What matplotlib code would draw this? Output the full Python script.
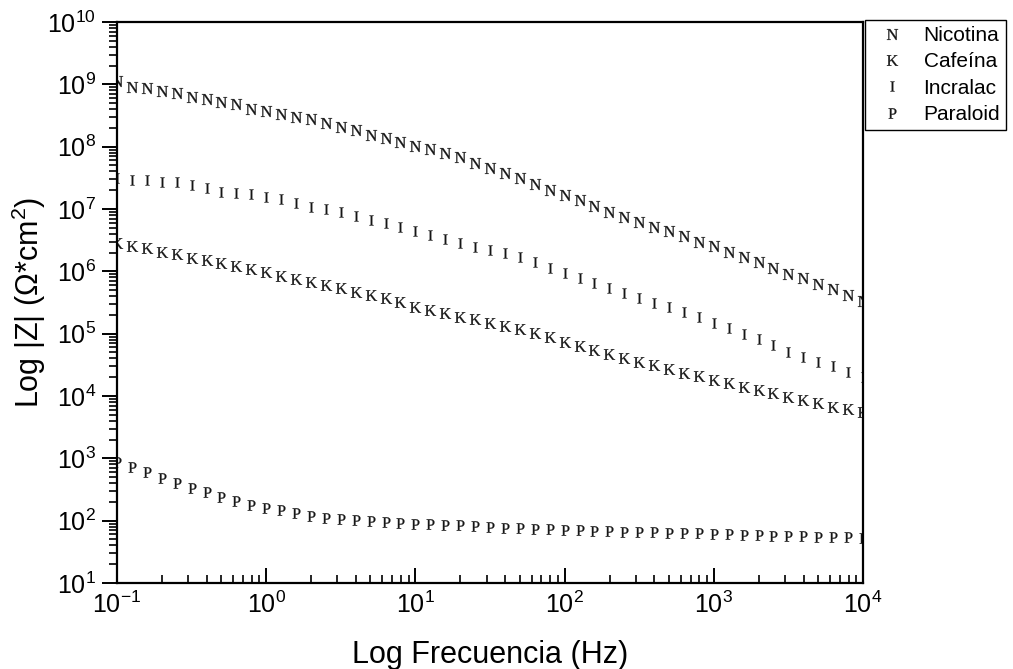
import matplotlib
matplotlib.use("Agg")
import matplotlib.pyplot as plt
from matplotlib.ticker import LogLocator, NullFormatter

# ====== データ ======
freq = [0.1, 0.1259, 0.1585, 0.1995, 0.2512, 0.3162, 0.3981, 0.5012, 0.631, 0.7943,
        1, 1.259, 1.585, 1.995, 2.512, 3.162, 3.981, 5.012, 6.31, 7.943,
        10, 12.59, 15.85, 19.95, 25.12, 31.62, 39.81, 50.12, 63.1, 79.43,
        100, 125.9, 158.5, 199.5, 251.2, 316.2, 398.1, 501.2, 631, 794.3,
        1000, 1259, 1585, 1995, 2512, 3162, 3981, 5012, 6310, 7943, 10000]

nicotina = [1.14e9, 9.16e8, 8.83e8, 7.82e8, 7.18e8, 6.33e8, 5.75e8, 5.15e8, 4.89e8, 3.97e8,
            3.73e8, 3.34e8, 3.03e8, 2.75e8, 2.42e8, 2.09e8, 1.85e8, 1.54e8, 1.36e8, 1.20e8,
            1.03e8, 9.08e7, 7.82e7, 6.90e7, 5.53e7, 4.58e7, 3.75e7, 3.10e7, 2.51e7, 2.01e7,
            1.66e7, 1.38e7, 1.12e7, 9.02e6, 7.38e6, 6.21e6, 5.08e6, 4.49e6, 3.63e6, 3.01e6,
            2.56e6, 2.02e6, 1.72e6, 1.39e6, 1.14e6, 9.18e5, 7.82e5, 6.32e5, 5.25e5, 4.19e5,
            3.39e5]

cafeina = [2.82e6, 2.58e6, 2.34e6, 2.07e6, 1.88e6, 1.66e6, 1.52e6, 1.37e6, 1.22e6, 1.09e6,
           9.64e5, 8.51e5, 7.53e5, 6.81e5, 6.04e5, 5.35e5, 4.71e5, 4.17e5, 3.69e5, 3.26e5,
           2.70e5, 2.39e5, 2.17e5, 1.87e5, 1.72e5, 1.50e5, 1.33e5, 1.17e5, 1.01e5, 8.75e4,
           7.26e4, 6.34e4, 5.47e4, 4.72e4, 4.03e4, 3.55e4, 3.14e4, 2.68e4, 2.37e4, 2.09e4,
           1.80e4, 1.60e4, 1.41e4, 1.25e4, 1.10e4, 9.73e3, 8.63e3, 7.64e3, 6.58e3, 6.11e3,
           5.60e3]

incralac = [3.10e7, 2.92e7, 2.92e7, 2.74e7, 2.74e7, 2.43e7, 2.15e7, 1.89e7, 1.79e7, 1.72e7,
            1.57e7, 1.43e7, 1.23e7, 1.09e7, 9.89e6, 8.85e6, 7.80e6, 6.65e6, 5.89e6, 5.20e6,
            4.49e6, 3.83e6, 3.30e6, 2.81e6, 2.48e6, 2.20e6, 1.99e6, 1.68e6, 1.40e6, 1.12e6,
            9.29e5, 7.73e5, 6.43e5, 5.35e5, 4.45e5, 3.70e5, 3.14e5, 2.65e5, 2.25e5, 1.83e5,
            1.50e5, 1.22e5, 9.89e4, 8.13e4, 6.58e4, 5.14e4, 4.28e4, 3.56e4, 3.03e4, 2.46e4,
            2.04e4]

paraloid = [883, 718, 597, 489, 406, 338, 285, 242, 209, 178,
            161, 148, 131, 119, 111, 106, 102, 98.6, 96.2, 92.7,
            88.3, 87.3, 85.1, 84.1, 82.0, 78.2, 77.1, 75.3, 74.3, 72.6,
            70.8, 70.8, 69.0, 68.2, 66.5, 66.5, 65.0, 64.1, 62.7, 62.7,
            61.1, 60.4, 58.9, 58.9, 57.4, 56.8, 56.8, 55.3, 55.3, 54.1,
            53.2]

labels = ["Nicotina", "Cafeína", "Incralac", "Paraloid"]
letters = ["N", "K", "I", "P"]

# ====== フォント ======
plt.rcParams["font.family"] = ["Liberation Sans", "DejaVu Sans"]
plt.rcParams["mathtext.fontset"] = "custom"
plt.rcParams["mathtext.rm"] = "Liberation Serif"
plt.rcParams["axes.unicode_minus"] = False

# ====== プロット ======
fig = plt.figure(figsize=(10.13, 6.69), dpi=100)
ax = fig.add_axes([117 / 1013, 1 - 583 / 669, 746 / 1013, 561 / 669])

series = [nicotina, cafeina, incralac, paraloid]
msizes = [8.0, 8.0, 7.2, 7.5]
for vals, lab, let, ms in zip(series, labels, letters, msizes):
    ax.plot(freq, vals, linestyle="none", marker=r"$\mathrm{%s}$" % let,
            markersize=ms, color="#151515", markeredgewidth=0.2, label=lab)

ax.set_xscale("log")
ax.set_yscale("log")
ax.set_xlim(0.1, 1e4)
ax.set_ylim(10, 1e10)

ax.yaxis.set_major_locator(LogLocator(base=10, numticks=15))
ax.yaxis.set_minor_locator(LogLocator(base=10, subs=range(2, 10), numticks=15))
ax.yaxis.set_minor_formatter(NullFormatter())
ax.xaxis.set_major_locator(LogLocator(base=10, numticks=10))
ax.xaxis.set_minor_locator(LogLocator(base=10, subs=range(2, 10), numticks=10))
ax.xaxis.set_minor_formatter(NullFormatter())

for s in ax.spines.values():
    s.set_linewidth(1.6)

ax.tick_params(axis="x", which="major", direction="in", length=11, width=1.4,
               labelsize=18, pad=6)
ax.tick_params(axis="x", which="minor", direction="in", length=6, width=1.2)
ax.tick_params(axis="y", which="major", direction="out", length=11, width=1.4,
               labelsize=18, pad=4)
ax.tick_params(axis="y", which="minor", direction="out", length=6, width=1.2)

ax.set_xlabel("Log Frecuencia (Hz)", fontsize=22, labelpad=16)
ax.set_ylabel("Log |Z| (Ω*cm$\\mathdefault{^2}$)", fontsize=22)
ax.yaxis.set_label_coords(-0.093, 0.5)

leg = ax.legend(loc="upper left", bbox_to_anchor=(1.003, 1.004), fontsize=15,
                frameon=True, fancybox=False, edgecolor="black", framealpha=1,
                borderaxespad=0, borderpad=0.3, labelspacing=0.35,
                handlelength=2.0, handletextpad=0.5, markerscale=1.0)
leg.get_frame().set_linewidth(1.0)

plt.savefig("out.png", dpi=100)
